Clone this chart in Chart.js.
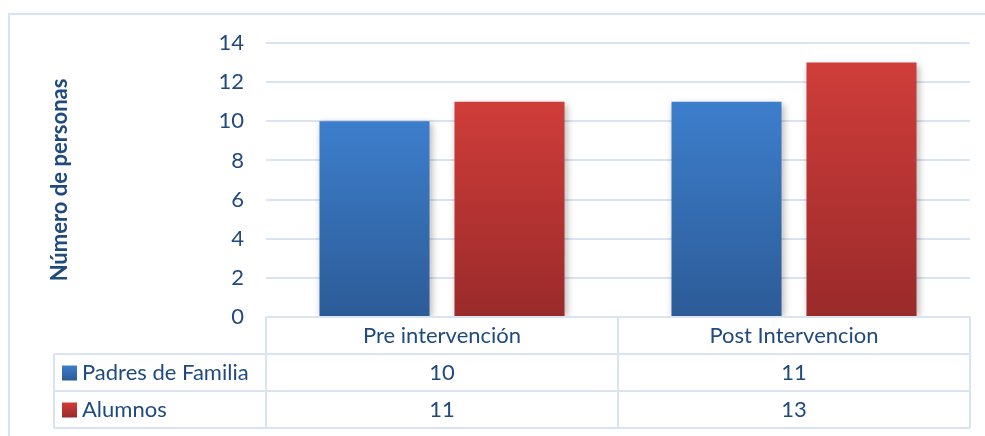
<!DOCTYPE html>
<html>
<head>
<meta charset="utf-8">
<script src="https://cdn.jsdelivr.net/npm/chart.js@4/dist/chart.umd.min.js"></script>
<style>
html,body{margin:0;padding:0;background:#fff;}
#wrap{position:relative;width:985px;height:436px;}
</style>
</head>
<body>
<div id="wrap"><canvas id="c" width="985" height="436"></canvas></div>
<script>
const categories = ["Pre intervención", "Post Intervencion"];
const padresValues = [10, 11];
const alumnosValues = [11, 13];
const seriesNames = ["Padres de Familia", "Alumnos"];
const yTicks = [0, 2, 4, 6, 8, 10, 12, 14];

const TEXT = '#1F4A7E';
const GRID = '#D9E3F1';
const FONT = 'Lato, "Open Sans", sans-serif';

const gradStops = [
  ['#3D7ECC', '#2C5B97'],
  ['#CF3D3A', '#9A2A2A']
];

function barGradient(ctx) {
  const chart = ctx.chart;
  const ys = chart.scales.y;
  const fallback = gradStops[ctx.datasetIndex][0];
  if (!ys || ctx.raw === undefined) return fallback;
  const top = ys.getPixelForValue(ctx.raw);
  const bot = ys.getPixelForValue(0);
  if (!isFinite(top) || !isFinite(bot) || top === bot) return fallback;
  const g = chart.ctx.createLinearGradient(0, top, 0, bot);
  g.addColorStop(0, gradStops[ctx.datasetIndex][0]);
  g.addColorStop(1, gradStops[ctx.datasetIndex][1]);
  return g;
}

const shadowPlugin = {
  id: 'shadow',
  beforeDatasetsDraw(chart) {
    const c = chart.ctx;
    c.save();
    c.shadowColor = 'rgba(0,0,0,0.28)';
    c.shadowBlur = 7;
    c.shadowOffsetX = 2;
    c.shadowOffsetY = 2;
  },
  afterDatasetsDraw(chart) {
    chart.ctx.restore();
  }
};

const framePlugin = {
  id: 'frame',
  beforeDraw(chart) {
    const c = chart.ctx;
    c.save();
    c.strokeStyle = '#D6E3F4';
    c.lineWidth = 2;
    c.beginPath();
    c.moveTo(9, 437);
    c.lineTo(9, 14);
    c.lineTo(986, 14);
    c.stroke();
    c.restore();
  }
};

const tablePlugin = {
  id: 'dataTable',
  afterDraw(chart) {
    const c = chart.ctx;
    const a = chart.chartArea;
    const xs = chart.scales.x;
    const n = categories.length;
    const colW = (a.right - a.left) / n;
    const rowsY = [a.bottom, a.bottom + 37, a.bottom + 74, a.bottom + 111];
    const labelLeft = 54;
    c.save();
    c.strokeStyle = GRID;
    c.lineWidth = 2;
    c.beginPath();
    c.moveTo(a.left, rowsY[0]); c.lineTo(a.right, rowsY[0]);
    for (let r = 1; r < rowsY.length; r++) {
      c.moveTo(labelLeft, rowsY[r]); c.lineTo(a.right, rowsY[r]);
    }
    c.moveTo(labelLeft, rowsY[1]); c.lineTo(labelLeft, rowsY[3]);
    for (let i = 0; i <= n; i++) {
      const x = a.left + i * colW;
      c.moveTo(x, rowsY[0]); c.lineTo(x, rowsY[3]);
    }
    c.stroke();

    c.fillStyle = TEXT;
    c.font = '22px ' + FONT;
    c.textAlign = 'center';
    c.textBaseline = 'middle';
    categories.forEach((cat, i) => {
      const x = xs.getPixelForValue(i);
      c.fillText(cat, x, (rowsY[0] + rowsY[1]) / 2);
    });
    const series = [padresValues, alumnosValues];
    series.forEach((vals, s) => {
      const yMid = (rowsY[s + 1] + rowsY[s + 2]) / 2;
      vals.forEach((v, i) => {
        c.fillText(String(v), xs.getPixelForValue(i), yMid);
      });
      const g = c.createLinearGradient(0, yMid - 7, 0, yMid + 8);
      g.addColorStop(0, gradStops[s][0]);
      g.addColorStop(1, gradStops[s][1]);
      c.fillStyle = g;
      c.fillRect(62, yMid - 7, 15, 15);
      c.fillStyle = TEXT;
      c.textAlign = 'left';
      c.fillText(seriesNames[s], 82, yMid);
      c.textAlign = 'center';
    });
    c.restore();
  }
};

new Chart(document.getElementById('c'), {
  type: 'bar',
  data: {
    labels: categories,
    datasets: [
      { label: seriesNames[0], data: padresValues, backgroundColor: barGradient },
      { label: seriesNames[1], data: alumnosValues, backgroundColor: barGradient }
    ]
  },
  options: {
    responsive: false,
    animation: false,
    devicePixelRatio: 1,
    categoryPercentage: 0.767,
    barPercentage: 0.815,
    layout: { padding: { left: 0, right: 15, top: 43, bottom: 119 } },
    plugins: { legend: { display: false }, tooltip: { enabled: false }, title: { display: false } },
    scales: {
      x: { display: false },
      y: {
        min: 0, max: 14,
        afterBuildTicks(scale) { scale.ticks = yTicks.map(v => ({ value: v })); },
        afterFit(scale) { scale.width = 266; },
        ticks: { color: TEXT, font: { family: FONT, size: 22 }, padding: 22 },
        grid: { color: GRID, lineWidth: 2, drawTicks: false },
        border: { display: false },
        title: {
          display: true, text: 'Número de personas', color: TEXT,
          font: { family: FONT, size: 22, weight: 'bold' },
          padding: { top: 47, bottom: 0 }
        }
      }
    }
  },
  plugins: [framePlugin, shadowPlugin, tablePlugin]
});
</script>
</body>
</html>
